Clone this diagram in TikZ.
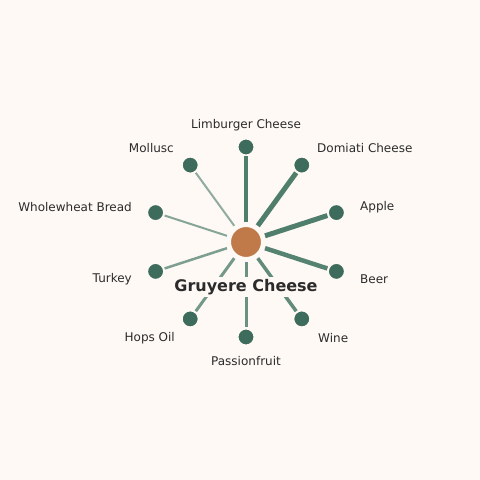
\documentclass[tikz,border=0pt]{standalone}
\usepackage{fontspec}
\setmainfont{DejaVu Sans}
\usepackage{tikz}

\definecolor{paper}{HTML}{FEF9F5}
\definecolor{leaf}{HTML}{3D6B5C}
\definecolor{spoke}{HTML}{477866}
\definecolor{hub}{HTML}{C07A4A}
\definecolor{ink}{HTML}{2B2B2B}

\tikzset{
  leafnode/.style={circle, fill=leaf, draw=paper, line width=2pt, minimum size=17pt, inner sep=0pt},
  hubnode/.style={circle, fill=hub, draw=paper, line width=2pt, minimum size=32pt, inner sep=0pt},
  tag/.style={text=ink, inner sep=0pt, font=\fontsize{12}{14}\selectfont},
  spokeline/.style={draw=spoke, shorten <=3pt}
}

\begin{document}
\begin{tikzpicture}[x=1pt, y=1pt]
    \fill[paper] (0,0) rectangle (480,480);
    \useasboundingbox (0,0) rectangle (480,480);

    \node[hubnode] at (246, 238) (hub) {};
    \node[leafnode] at (246, 333) (limburger) {};
    \node[leafnode] at (301.8, 314.9) (domiati) {};
    \node[leafnode] at (336.4, 267.4) (apple) {};
    \node[leafnode] at (336.4, 208.6) (beer) {};
    \node[leafnode] at (301.8, 161.1) (wine) {};
    \node[leafnode] at (246, 143) (passion) {};
    \node[leafnode] at (190.2, 161.1) (hops) {};
    \node[leafnode] at (155.6, 208.6) (turkey) {};
    \node[leafnode] at (155.6, 267.4) (bread) {};
    \node[leafnode] at (190.2, 314.9) (mollusc) {};

    \node[tag] at (246, 355) (Llimburger) {Limburger Cheese};
    \node[tag, anchor=west] at (317, 332) (Ldomiati) {Domiati Cheese};
    \node[tag, anchor=west] at (360, 273) (Lapple) {Apple};
    \node[tag, anchor=west] at (360, 201) (Lbeer) {Beer};
    \node[tag, anchor=west] at (318, 142) (Lwine) {Wine};
    \node[tag] at (246, 119) (Lpassion) {Passionfruit};
    \node[tag, anchor=east] at (175, 142) (Lhops) {Hops Oil};
    \node[tag, anchor=east] at (132, 201) (Lturkey) {Turkey};
    \node[tag, anchor=east] at (132, 273) (Lbread) {Wholewheat Bread};
    \node[tag, anchor=east] at (174, 332) (Lmollusc) {Mollusc};

    \draw[spokeline, line width=4.5pt, opacity=0.95] (hub) -- (limburger);
    \draw[spokeline, line width=5pt, opacity=0.95] (hub) -- (domiati);
    \draw[spokeline, line width=5pt, opacity=0.95] (hub) -- (apple);
    \draw[spokeline, line width=4.5pt, opacity=0.92] (hub) -- (beer);
    \draw[spokeline, line width=3.5pt, opacity=0.85] (hub) -- (wine);
    \draw[spokeline, line width=3pt, opacity=0.8] (hub) -- (passion);
    \draw[spokeline, line width=3pt, opacity=0.75] (hub) -- (hops);
    \draw[spokeline, line width=2.5pt, opacity=0.7] (hub) -- (turkey);
    \draw[spokeline, line width=2pt, opacity=0.65] (hub) -- (bread);
    \draw[spokeline, line width=2pt, opacity=0.6] (hub) -- (mollusc);

    \node[fill=paper, text=ink, inner sep=2pt, font=\fontsize{16}{19}\selectfont\bfseries] at (246, 193) (title) {Gruyere Cheese};
\end{tikzpicture}
\end{document}
